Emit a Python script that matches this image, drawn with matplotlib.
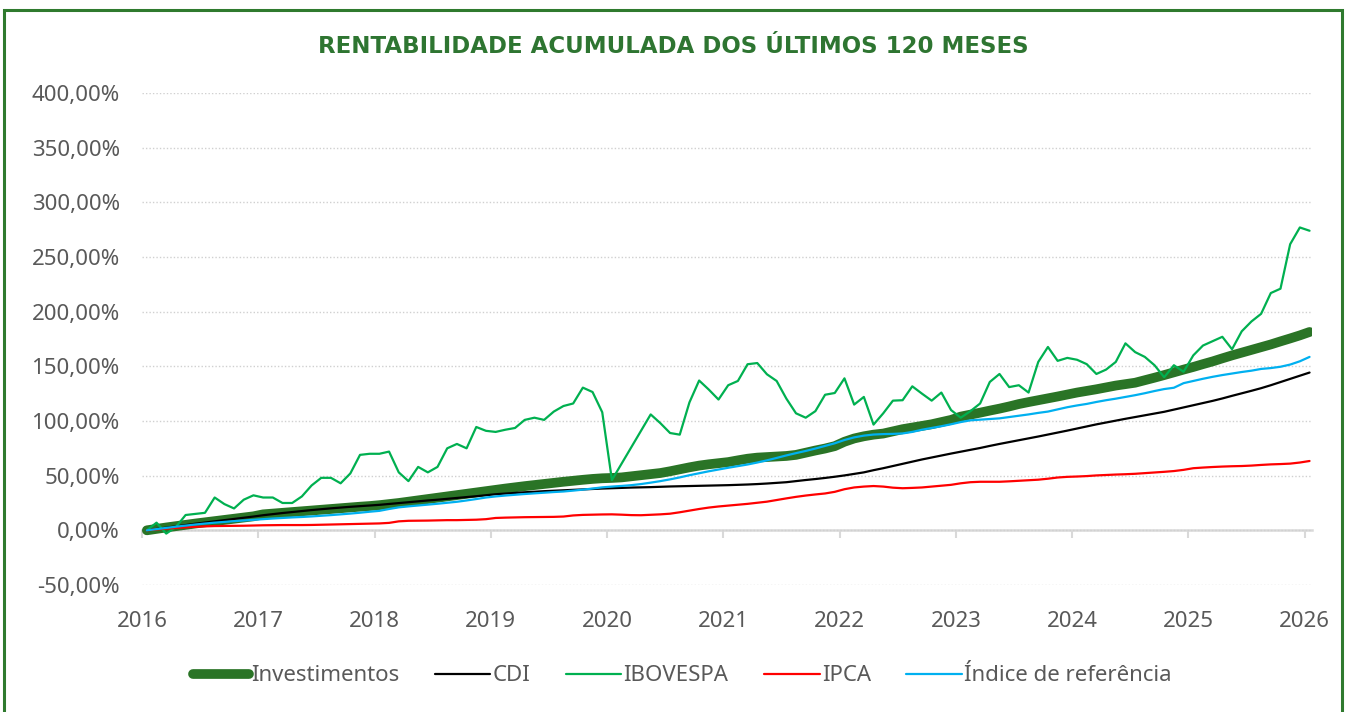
import matplotlib
matplotlib.use("Agg")
import matplotlib.pyplot as plt
import numpy as np
from matplotlib.patches import Rectangle
from matplotlib.ticker import FuncFormatter, MultipleLocator

plt.rcParams['font.family'] = ['Noto Sans', 'DejaVu Sans']

# monthly accumulated returns (%), Jan/2016 .. Jan/2026
investimentos = [
    0, 1.3, 2.6, 3.8, 5, 6.2, 7.3, 8.4, 9.5, 10.6, 11.7, 12.8,
    14.6, 15.3, 16, 16.7, 17.4, 18.1, 18.8, 19.5, 20.2, 20.9, 21.6, 22.2,
    23, 24, 25, 26.2, 27.4, 28.6, 29.8, 31, 32.2, 33.4, 34.6, 35.8,
    37, 38.2, 39.3, 40.4, 41.4, 42.4, 43.4, 44.4, 45.3, 46.2, 47, 47.6,
    47.9, 48.4, 49.4, 50.4, 51.4, 52.4, 54, 55.8, 57.6, 59.2, 60.4, 61.4,
    62.4, 64, 65.5, 66.5, 67, 67.5, 68, 69, 71, 73, 74.8, 77,
    81, 84, 86, 87.5, 88.5, 90.5, 92.5, 94, 95.5, 97, 99, 101,
    104, 105.8, 107.6, 109.5, 111.3, 113.3, 115.5, 117.3, 119, 120.7, 122.4, 124.2,
    126, 127.5, 129, 130.7, 132.4, 133.7, 135, 137.3, 139.6, 142, 144.5, 147,
    149.4, 152, 154.5, 157.3, 160, 162.5, 165, 167.5, 170, 172.8, 175.5, 178.3,
    181.4,
]
cdi = [
    0, 1.2, 2.4, 3.6, 4.8, 6, 7.1, 8.2, 9.3, 10.4, 11.5, 12.6,
    13.8, 14.8, 15.8, 16.7, 17.6, 18.5, 19.3, 20.1, 20.8, 21.5, 22.1, 22.7,
    23.3, 24.1, 24.9, 25.7, 26.5, 27.3, 28, 28.8, 29.6, 30.4, 31.2, 32.1,
    33, 33.6, 34.2, 34.8, 35.3, 35.8, 36.2, 36.6, 37, 37.4, 37.8, 38.2,
    38.5, 38.8, 39.1, 39.3, 39.5, 39.8, 40.1, 40.3, 40.5, 40.7, 40.9, 41.1,
    41.3, 41.6, 41.9, 42.3, 42.8, 43.4, 44, 45, 46, 46.9, 47.9, 49,
    50.2, 51.6, 53, 55, 56.8, 58.8, 60.8, 62.8, 64.8, 66.6, 68.4, 70.2,
    71.9, 73.6, 75.3, 77.2, 79, 80.7, 82.4, 84.1, 85.8, 87.6, 89.4, 91.2,
    93.1, 95, 96.9, 98.6, 100.3, 102, 103.6, 105.2, 106.8, 108.4, 110.4, 112.4,
    114.4, 116.4, 118.4, 120.6, 123, 125.3, 127.6, 130, 132.7, 135.6, 138.5, 141.4,
    144.3,
]
ibovespa = [
    0, 7, -3, 3, 14, 15, 16, 30, 24, 20, 28, 32,
    30, 30, 25, 25, 31, 41, 48, 48, 43, 52, 69, 70,
    70, 72, 53, 45, 58, 53, 58, 75, 79, 75, 94.5, 91,
    90, 92, 93.6, 101, 103, 101, 108.6, 113.7, 116, 130.5, 126.5, 108,
    46, 61, 76, 91, 106, 98, 89, 87.5, 117, 137, 128.7, 119.6,
    132.7, 136.6, 151.9, 153, 142.7, 136.6, 120.5, 107, 103, 109, 124, 125.6,
    139, 115, 122, 96.7, 107, 118.6, 119, 131.7, 125, 118.6, 126, 110,
    103, 109, 116, 135.7, 143, 131, 132.7, 126, 154, 167.7, 155, 157.7,
    156, 152, 143, 147, 154, 171, 163, 158.6, 151, 140, 151, 145,
    160, 169, 173, 177, 165.6, 182, 191, 198, 217, 221, 261.7, 277,
    274,
]
ipca = [
    0, 0.8, 1.5, 2.2, 2.7, 3.2, 3.6, 3.9, 4, 4.1, 4.2, 4.4,
    4.6, 4.7, 4.8, 4.8, 4.8, 4.9, 5.1, 5.3, 5.5, 5.7, 5.9, 6.1,
    6.3, 6.8, 8.2, 8.7, 8.8, 8.9, 9.1, 9.3, 9.3, 9.5, 9.7, 10.2,
    11.3, 11.6, 11.8, 12, 12.1, 12.2, 12.3, 12.6, 13.6, 14.1, 14.3, 14.5,
    14.6, 14.3, 13.9, 13.8, 14.2, 14.6, 15.2, 16.5, 18, 19.5, 20.8, 21.8,
    22.6, 23.4, 24.2, 25.2, 26.2, 27.7, 29.2, 30.6, 31.8, 32.8, 33.7, 35.2,
    37.6, 39.2, 40, 40.5, 40, 39, 38.5, 38.8, 39.2, 40, 40.8, 41.6,
    43, 44, 44.4, 44.4, 44.4, 44.8, 45.3, 45.8, 46.3, 47.2, 48.3, 48.9,
    49.2, 49.6, 50.2, 50.6, 51, 51.3, 51.7, 52.3, 52.9, 53.5, 54.2, 55.3,
    56.8, 57.4, 57.9, 58.3, 58.6, 58.8, 59.2, 59.8, 60.3, 60.6, 61, 62,
    63.4,
]
indice_ref = [
    0, 1.1, 2.2, 3.3, 4.3, 5.3, 6.2, 7, 7.7, 8.4, 9, 9.6,
    10.2, 10.8, 11.3, 11.8, 12.2, 12.7, 13.3, 13.9, 14.6, 15.3, 16.1, 17,
    17.8, 19.5, 21, 21.9, 22.7, 23.5, 24.3, 25.2, 26.1, 27.3, 28.6, 30,
    31, 31.8, 32.5, 33.2, 33.8, 34.4, 35, 35.5, 36.3, 37.2, 38.2, 39.3,
    40, 40.6, 41.3, 42.3, 43.6, 45, 46.6, 48.4, 50.4, 52.2, 54, 55.6,
    57.2, 58.7, 60.2, 62, 64, 66.2, 68.5, 70.6, 72.6, 74.8, 77.2, 79.6,
    82.6, 85, 86.6, 87.6, 88, 88.2, 88.6, 90, 92, 93.6, 95.2, 97,
    99, 100.6, 101.2, 101.8, 102.4, 103.6, 104.8, 106, 107.4, 108.6, 110.6, 112.6,
    114.2, 115.6, 117.4, 119, 120.4, 122, 123.6, 125.4, 127.4, 129.2, 130.4, 134.6,
    136.6, 138.6, 140.4, 142, 143.4, 144.8, 146, 147.6, 148.4, 149.6, 151.6, 154.6,
    158.6,
]
year_ticks = list(range(2016, 2027))

# x as decimal years (mid-month)
months = np.arange(len(investimentos))
x = 2016 + (months + 0.5) / 12

series = [
    ("Investimentos", investimentos, "#2A7426", 7.0),
    ("CDI", cdi, "#000000", 1.6),
    ("IBOVESPA", ibovespa, "#00B050", 1.6),
    ("IPCA", ipca, "#FF0000", 1.6),
    ("Índice de referência", indice_ref, "#00B0F0", 1.6),
]

fig = plt.figure(figsize=(13.46, 7.12), dpi=100)
ax = fig.add_axes([0.1055, 0.1784, 0.869, 0.691])

for name, vals, color, lw in series:
    ax.plot(x, vals, color=color, linewidth=lw, label=name,
            solid_capstyle='round', solid_joinstyle='round')

ax.set_xlim(2016, 2026.06)
ax.set_ylim(-50, 400)
ax.yaxis.set_major_locator(MultipleLocator(50))
ax.yaxis.set_major_formatter(
    FuncFormatter(lambda v, p: f"{v:.2f}".replace(".", ",") + "%"))
ax.set_xticks(year_ticks)
ax.set_xticklabels([str(y) for y in year_ticks])

ax.yaxis.grid(True, linestyle=(0, (1, 1.5)), color='#D0D0D0', linewidth=1.0)
ax.set_axisbelow(True)
for side in ['top', 'right', 'left']:
    ax.spines[side].set_visible(False)
ax.spines['bottom'].set_position(('data', 0))
ax.spines['bottom'].set_color('#D9D9D9')
ax.spines['bottom'].set_linewidth(1.8)
ax.spines['bottom'].set_zorder(0.5)

ax.tick_params(axis='y', length=0, pad=16, labelsize=16, labelcolor='#595959')
ax.tick_params(axis='x', direction='out', length=6, width=1.5, color='#D9D9D9',
               pad=52, labelsize=16, labelcolor='#595959')

leg = ax.legend(loc='center', bbox_to_anchor=(0.462, -0.185), ncol=5,
                frameon=False, fontsize=16, handlelength=2.5, handletextpad=0.1,
                columnspacing=1.6)
for t in leg.get_texts():
    t.set_color('#595959')

fig.text(0.5, 0.935, "RENTABILIDADE ACUMULADA DOS ÚLTIMOS 120 MESES",
         ha='center', va='center', fontsize=16.5, fontweight='bold',
         color='#2E7531', family=['DejaVu Sans'])

# chart frame
fig.patches.append(Rectangle((0.003, -0.02), 0.994, 1.006,
                             transform=fig.transFigure, fill=False,
                             edgecolor='#2F7A2E', linewidth=2.2))

fig.savefig("out.png", dpi=100)
